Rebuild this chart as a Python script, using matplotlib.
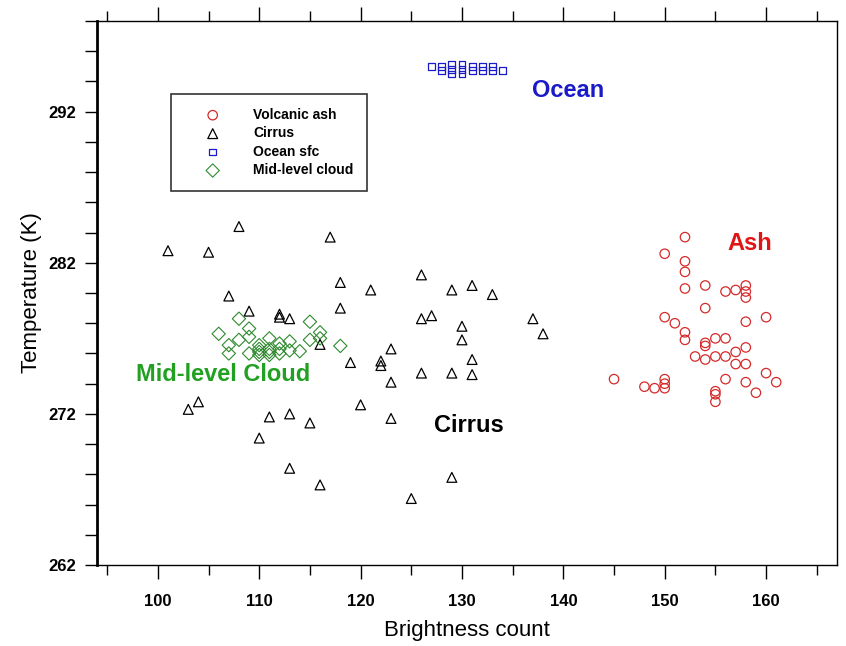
import matplotlib
matplotlib.use("Agg")
import matplotlib.pyplot as plt
from matplotlib.ticker import MultipleLocator, FixedLocator

plt.rcParams["font.family"] = ["Liberation Sans", "DejaVu Sans"]

# volcanic ash (brightness count, temperature K)
ash_x = [152, 150, 152, 152, 152, 154, 156, 157, 158, 158, 158, 154, 160, 150,
         151, 152, 152, 158, 154, 154, 155, 156, 153, 154, 155, 156, 157, 157,
         158, 158, 160, 161, 145, 148, 149, 150, 150, 150, 156, 158, 159, 155,
         155, 155]
ash_y = [283.7, 282.6, 282.1, 281.4, 280.3, 280.5, 280.1, 280.2, 280.5, 280.1,
         279.7, 279.0, 278.4, 278.4, 278.0, 277.4, 276.9, 278.1, 276.7, 276.5,
         277.0, 277.0, 275.8, 275.6, 275.8, 275.8, 276.1, 275.3, 276.4, 275.3,
         274.7, 274.1, 274.3, 273.8, 273.7, 274.3, 274.0, 273.7, 274.3, 274.1,
         273.4, 273.5, 273.3, 272.8]

# cirrus
cirrus_x = [101, 105, 108, 117, 118, 121, 107, 109, 112, 112, 113, 118, 116,
            119, 122, 122, 126, 129, 131, 133, 126, 127, 130, 130, 137, 138,
            123, 131, 126, 129, 131, 123, 120, 123, 115, 129, 116, 125, 103,
            104, 111, 113, 110, 113]
cirrus_y = [282.8, 282.7, 284.4, 283.7, 280.7, 280.2, 279.8, 278.8, 278.6,
            278.4, 278.3, 279.0, 276.6, 275.4, 275.5, 275.2, 281.2, 280.2,
            280.5, 279.9, 278.3, 278.5, 277.8, 276.9, 278.3, 277.3, 276.3,
            275.6, 274.7, 274.7, 274.6, 274.1, 272.6, 271.7, 271.4, 267.8,
            267.3, 266.4, 272.3, 272.8, 271.8, 272.0, 270.4, 268.4]

# ocean surface
ocean_x = [127, 128, 128, 129, 129, 129, 130, 130, 130, 131, 131, 132, 132,
           133, 133, 134]
ocean_y = [295.0, 295.0, 294.75, 295.1, 294.8, 294.5, 295.1, 294.8, 294.5,
           295.0, 294.75, 295.0, 294.75, 295.0, 294.75, 294.75]

# mid-level cloud
mid_x = [108, 106, 109, 107, 107, 108, 109, 109, 110, 110, 110, 111, 111, 111,
         112, 112, 113, 113, 114, 115, 115, 116, 116, 118, 110, 111, 112]
mid_y = [278.3, 277.3, 277.65, 276.55, 276.0, 276.9, 277.1, 276.0, 276.55,
         275.9, 276.3, 277.0, 276.3, 275.9, 276.66, 276.0, 276.8, 276.2,
         276.15, 278.1, 276.9, 277.4, 277.0, 276.5, 276.1, 276.1, 276.3]

y_major = [262, 272, 282, 292]

RED = "#d42a2a"
BLUE = "#1a1ac8"
GREEN = "#2e8a2e"


def main():

    fig = plt.figure(figsize=(8.46, 6.46), dpi=100)
    ax = fig.add_axes([0.1147, 0.1254, 0.8747, 0.842])

    ax.scatter(ash_x, ash_y, s=46, marker="o", facecolors="none",
               edgecolors=RED, linewidths=0.9, label="Volcanic ash", zorder=3)
    ax.scatter(cirrus_x, cirrus_y, s=50, marker="^", facecolors="none",
               edgecolors="black", linewidths=0.9, label="Cirrus", zorder=3)
    ax.scatter(ocean_x, ocean_y, s=24, marker="s", facecolors="none",
               edgecolors=BLUE, linewidths=0.9, label="Ocean sfc", zorder=3)
    ax.scatter(mid_x, mid_y, s=46, marker="D", facecolors="none",
               edgecolors=GREEN, linewidths=0.8, label="Mid-level cloud", zorder=4)

    ax.text(136.9, 293.4, "Ocean", color=BLUE, fontsize=17, fontweight="bold",
            ha="left", va="center")
    ax.text(156.2, 283.3, "Ash", color="#e01515", fontsize=17, fontweight="bold",
            ha="left", va="center")
    ax.text(97.8, 274.6, "Mid-level Cloud", color="#22a022", fontsize=17,
            fontweight="bold", ha="left", va="center")
    ax.text(127.2, 271.2, "Cirrus", color="black", fontsize=17,
            fontweight="bold", ha="left", va="center")

    ax.set_xlim(94, 167)
    ax.set_ylim(262, 298)

    ax.xaxis.set_major_locator(MultipleLocator(10))
    ax.xaxis.set_minor_locator(MultipleLocator(5))
    ax.yaxis.set_major_locator(FixedLocator(y_major))
    ax.yaxis.set_minor_locator(MultipleLocator(2))

    ax.tick_params(axis="x", which="major", direction="out", length=10,
                   width=1, top=True, labelsize=12, pad=11)
    ax.tick_params(axis="x", which="minor", direction="out", length=7,
                   width=1, top=True)
    ax.tick_params(axis="y", which="major", direction="out", length=9,
                   width=1, labelsize=12, pad=6)
    ax.tick_params(axis="y", which="minor", direction="out", length=9, width=1)
    for lab in ax.get_xticklabels() + ax.get_yticklabels():
        lab.set_fontweight("bold")

    for side in ["top", "right", "bottom"]:
        ax.spines[side].set_linewidth(1.0)
    ax.spines["left"].set_linewidth(2.0)

    ax.set_xlabel("Brightness count", fontsize=16, labelpad=8)
    ax.set_ylabel("Temperature (K)", fontsize=16, labelpad=5)

    leg = ax.legend(loc="upper left", bbox_to_anchor=(0.1, 0.866),
                    borderaxespad=0, fancybox=False, frameon=True,
                    edgecolor="black", borderpad=1.0,
                    labelspacing=0.32, handlelength=4.0, handletextpad=0.9,
                    prop={"weight": "bold", "size": 10})
    leg.get_frame().set_linewidth(1.2)

    fig.savefig("out.png", dpi=100)


if __name__ == "__main__":
    main()
